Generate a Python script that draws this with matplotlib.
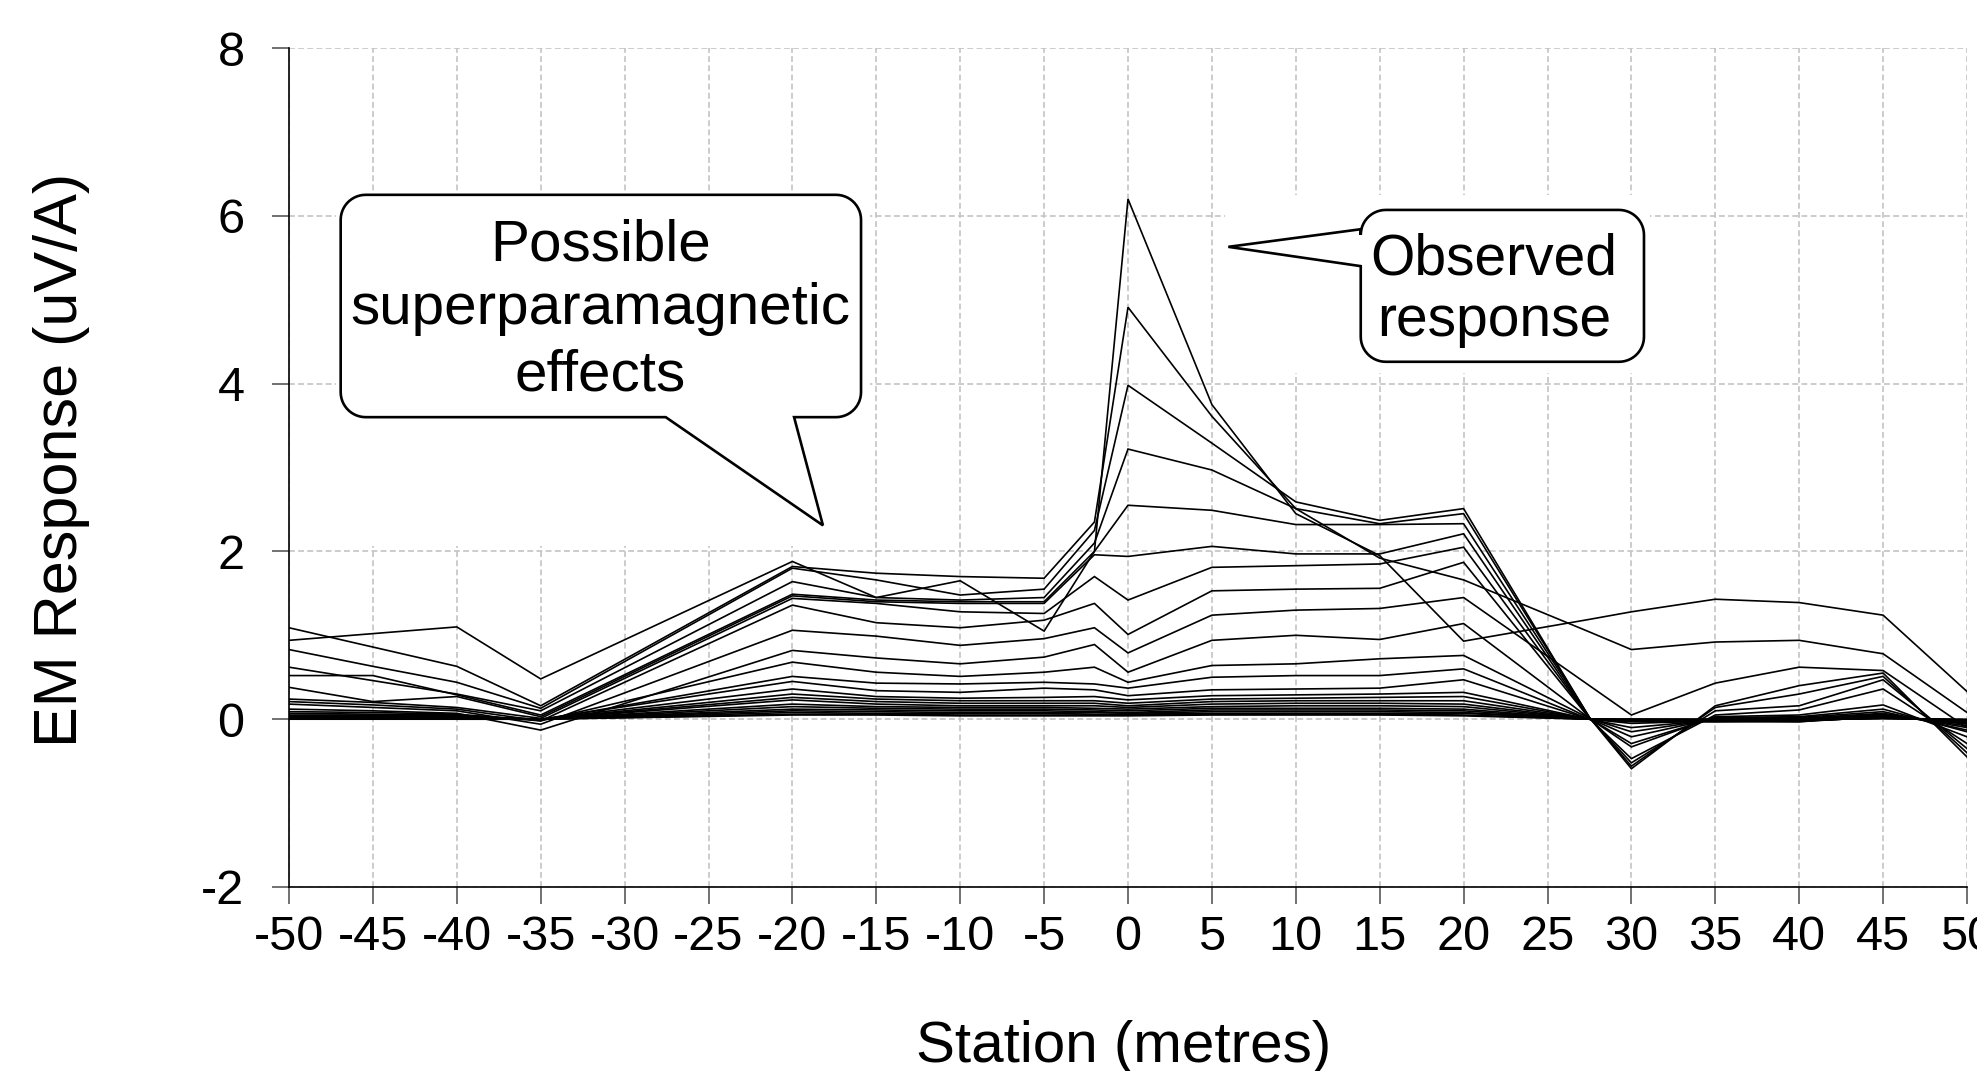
import matplotlib
matplotlib.use('Agg')
import matplotlib.pyplot as plt
import numpy as np
from matplotlib.patches import Polygon, Rectangle
from matplotlib.transforms import IdentityTransform

plt.rcParams['font.family'] = ['Liberation Sans', 'DejaVu Sans']
plt.rcParams['axes.unicode_minus'] = False

# ---------------- data ----------------
stations = [-50, -45, -40, -35, -20, -15, -10, -5, -2, 0, 5, 10, 15, 20, 27.5, 30, 35, 40, 45, 50]

ch01 = [0.94, 1.02, 1.10, 0.48, 1.88, 1.45, 1.65, 1.05, 2.00, 6.20, 3.75, 2.45, 1.95, 0.93, 1.19, 1.28, 1.43, 1.39, 1.24, 0.33]
ch02 = [1.09, 0.86, 0.63, 0.16, 1.82, 1.74, 1.70, 1.68, 2.35, 4.91, 3.61, 2.51, 1.92, 1.66, 1.04, 0.83, 0.92, 0.94, 0.78, 0.08]
ch03 = [0.83, 0.63, 0.44, 0.13, 1.80, 1.66, 1.48, 1.55, 2.25, 3.98, 3.29, 2.59, 2.37, 2.51, 0.02, -0.59, 0.16, 0.40, 0.55, -0.45]
ch04 = [0.62, 0.46, 0.30, 0.10, 1.64, 1.45, 1.42, 1.45, 2.10, 3.22, 2.97, 2.51, 2.33, 2.45, 0.02, -0.56, 0.14, 0.30, 0.51, -0.40]
ch05 = [0.52, 0.52, 0.29, 0.05, 1.49, 1.42, 1.40, 1.40, 2.00, 2.55, 2.49, 2.32, 2.32, 2.33, 0.02, -0.52, 0.10, 0.16, 0.47, -0.35]
ch06 = [0.38, 0.21, 0.27, 0.03, 1.47, 1.40, 1.38, 1.38, 1.96, 1.94, 2.06, 1.97, 1.97, 2.21, 0.01, -0.47, 0.05, 0.11, 0.36, -0.29]
ch07 = [0.24, 0.20, 0.14, 0.01, 1.44, 1.38, 1.28, 1.26, 1.70, 1.42, 1.81, 1.83, 1.85, 2.05, 0.01, -0.33, 0.03, 0.05, 0.17, -0.21]
ch08 = [0.21, 0.17, 0.12, -0.02, 1.36, 1.15, 1.09, 1.18, 1.38, 1.01, 1.53, 1.55, 1.56, 1.87, 0.01, -0.29, 0.02, 0.03, 0.12, -0.15]
ch09 = [0.18, 0.14, 0.10, -0.06, 1.06, 0.99, 0.88, 0.96, 1.09, 0.79, 1.24, 1.30, 1.32, 1.45, 0.40, 0.05, 0.43, 0.62, 0.58, -0.10]
ch10 = [0.12, 0.10, 0.07, -0.13, 0.82, 0.73, 0.66, 0.74, 0.89, 0.56, 0.94, 1.00, 0.95, 1.14, 0.01, -0.21, 0.01, 0.02, 0.09, -0.13]
ch11 = [0.09, 0.08, 0.06, -0.02, 0.68, 0.56, 0.51, 0.56, 0.62, 0.44, 0.64, 0.66, 0.72, 0.76, 0.01, -0.15, 0.00, 0.01, 0.07, -0.10]
ch12 = [0.07, 0.06, 0.05, -0.01, 0.51, 0.43, 0.42, 0.44, 0.42, 0.37, 0.50, 0.52, 0.52, 0.60, 0.00, -0.10, -0.01, 0.00, 0.06, -0.08]
ch13 = [0.05, 0.05, 0.04, 0.00, 0.45, 0.34, 0.32, 0.37, 0.35, 0.28, 0.35, 0.36, 0.37, 0.47, 0.00, -0.05, -0.02, -0.01, 0.05, -0.06]
ch14 = [0.04, 0.04, 0.03, 0.00, 0.36, 0.27, 0.25, 0.26, 0.27, 0.23, 0.28, 0.29, 0.30, 0.32, 0.00, -0.03, -0.03, -0.02, 0.04, -0.05]
ch15 = [0.03, 0.03, 0.03, 0.00, 0.30, 0.24, 0.22, 0.22, 0.22, 0.19, 0.24, 0.25, 0.26, 0.27, 0.00, -0.02, -0.03, -0.03, 0.04, -0.04]
ch16 = [0.03, 0.02, 0.02, 0.00, 0.26, 0.21, 0.19, 0.19, 0.19, 0.16, 0.21, 0.22, 0.22, 0.22, 0.00, -0.02, -0.02, -0.03, 0.03, -0.03]
ch17 = [0.02, 0.02, 0.02, 0.00, 0.23, 0.18, 0.16, 0.16, 0.16, 0.14, 0.18, 0.19, 0.19, 0.18, 0.00, -0.02, -0.02, -0.02, 0.03, -0.03]
ch18 = [0.02, 0.02, 0.01, 0.00, 0.18, 0.15, 0.14, 0.14, 0.13, 0.12, 0.15, 0.16, 0.16, 0.15, 0.00, -0.01, -0.02, -0.02, 0.02, -0.02]
ch19 = [0.02, 0.01, 0.01, 0.00, 0.15, 0.13, 0.12, 0.12, 0.11, 0.10, 0.13, 0.13, 0.13, 0.12, 0.00, -0.01, -0.01, -0.02, 0.02, -0.02]
ch20 = [0.01, 0.01, 0.01, 0.00, 0.12, 0.11, 0.10, 0.10, 0.09, 0.08, 0.11, 0.11, 0.11, 0.10, 0.00, -0.01, -0.01, -0.01, 0.02, -0.02]
ch21 = [0.01, 0.01, 0.01, 0.00, 0.10, 0.09, 0.08, 0.08, 0.08, 0.07, 0.09, 0.09, 0.09, 0.08, 0.00, -0.01, -0.01, -0.01, 0.01, -0.01]
ch22 = [0.01, 0.01, 0.01, 0.00, 0.08, 0.07, 0.07, 0.07, 0.06, 0.06, 0.07, 0.07, 0.07, 0.07, 0.00, 0.00, -0.01, -0.01, 0.01, -0.01]
ch23 = [0.01, 0.01, 0.00, 0.00, 0.06, 0.06, 0.05, 0.05, 0.05, 0.05, 0.06, 0.06, 0.06, 0.05, 0.00, 0.00, 0.00, -0.01, 0.01, -0.01]
ch24 = [0.00, 0.00, 0.00, 0.00, 0.05, 0.05, 0.04, 0.04, 0.04, 0.04, 0.05, 0.05, 0.05, 0.04, 0.00, 0.00, 0.00, 0.00, 0.01, 0.00]

channels = [ch01, ch02, ch03, ch04, ch05, ch06, ch07, ch08, ch09, ch10, ch11, ch12,
            ch13, ch14, ch15, ch16, ch17, ch18, ch19, ch20, ch21, ch22, ch23, ch24]

x_ticks = list(range(-50, 51, 5))
y_ticks = [-2, 0, 2, 4, 6, 8]

callout1_lines = ['Possible', 'superparamagnetic', 'effects']
callout2_lines = ['Observed', 'response']

# ---------------- figure ----------------
W, H = 1977, 1071
fig = plt.figure(figsize=(W / 100, H / 100), dpi=100)
L, R, T, B = 289, 1967, 48, 887
ax = fig.add_axes([L / W, 1 - B / H, (R - L) / W, (B - T) / H])
ax.set_xlim(-50, 50)
ax.set_ylim(-2, 8)

for s in ['top', 'right']:
    ax.spines[s].set_visible(False)
for s in ['left', 'bottom']:
    ax.spines[s].set_color('black')
    ax.spines[s].set_linewidth(1.2)

ax.set_xticks(x_ticks)
ax.set_yticks(y_ticks)
ax.tick_params(axis='both', direction='out', length=12, width=1.3, color='#666666',
               labelsize=35, labelcolor='black')
ax.tick_params(axis='x', pad=8)
ax.tick_params(axis='y', pad=20)

ax.set_axisbelow(True)
ax.grid(True, color='#c4c4c4', linestyle=(0, (3.5, 2.0)), linewidth=1.2)

# white areas behind callouts (hide grid)
ax.add_patch(Rectangle((-47.2, 2.07), 31.8, 4.21, facecolor='white', edgecolor='none', zorder=1))
ax.add_patch(Rectangle((5.8, 4.13), 25.3, 2.12, facecolor='white', edgecolor='none', zorder=1))

for ch in channels:
    ax.plot(stations, ch, color='black', linewidth=1.2, zorder=2, solid_joinstyle='miter')


def callout(ax, box, side, base, tip, r=25):
    x0d, x1d, y0d, y1d = box
    x0, y0 = ax.transData.transform((x0d, y0d))
    x1, y1 = ax.transData.transform((x1d, y1d))
    tx, ty = ax.transData.transform(tip)

    def arc(cx, cy, a0, a1):
        t = np.radians(np.linspace(a0, a1, 14))
        return list(zip(cx + r * np.cos(t), cy + r * np.sin(t)))

    v = []
    v += arc(x0 + r, y0 + r, 180, 270)
    if side == 'bottom':
        bx = sorted(ax.transData.transform([(b, y0d) for b in base])[:, 0])
        v += [(bx[0], y0), (tx, ty), (bx[1], y0)]
    v += arc(x1 - r, y0 + r, 270, 360)
    v += arc(x1 - r, y1 - r, 0, 90)
    v += arc(x0 + r, y1 - r, 90, 180)
    if side == 'left':
        by = sorted(ax.transData.transform([(x0d, b) for b in base])[:, 1], reverse=True)
        v += [(x0, by[0]), (tx, ty), (x0, by[1])]
    p = Polygon(v, closed=True, transform=IdentityTransform(), facecolor='white',
                edgecolor='black', linewidth=1.9, zorder=3, joinstyle='miter')
    fig.add_artist(p)


callout(ax, (-46.92, -15.91, 3.60, 6.25), 'bottom', (-27.55, -19.90), (-18.18, 2.31))
callout(ax, (13.87, 30.75, 4.26, 6.07), 'left', (5.84, 5.40), (5.98, 5.63))


def data_to_fig(x, y):
    return fig.transFigure.inverted().transform(ax.transData.transform((x, y)))


for txt, yy in zip(callout1_lines, [5.47, 4.71, 3.92]):
    fx, fy = data_to_fig(-31.43, yy)
    fig.text(fx, fy, txt, ha='center', va='baseline', fontsize=42, zorder=5)
for txt, yy in zip(callout2_lines, [5.30, 4.57]):
    fx, fy = data_to_fig(21.8, yy)
    fig.text(fx, fy, txt, ha='center', va='baseline', fontsize=41, zorder=5)

fig.text(1124 / W, 1 - 1062 / H, 'Station (metres)', ha='center', va='baseline', fontsize=42)
fig.text(62 / W, 1 - 460 / H, 'EM Response (uV/A)', rotation=90, ha='center', va='center', fontsize=44)

fig.savefig('out.png', dpi=100, facecolor='white')
